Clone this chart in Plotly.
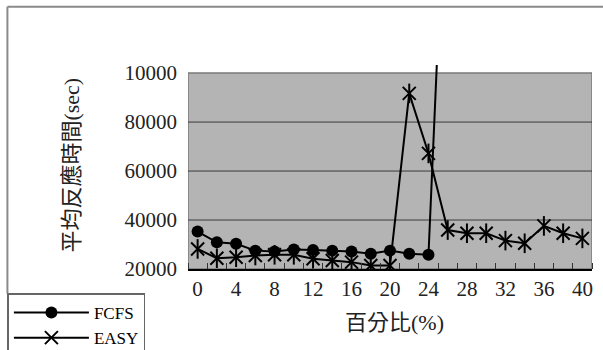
import plotly.graph_objects as go

# Percent settings on the x axis
pct_fcfs = [0, 2, 4, 6, 8, 10, 12, 14, 16, 18, 20, 22, 24, 26]
pct_easy = [0, 2, 4, 6, 8, 10, 12, 14, 16, 18, 20, 22, 24, 26, 28, 30, 32, 34, 36, 38, 40]

# Average response time (sec)
fcfs = [35300, 30900, 30300, 27500, 27100, 28000, 27800, 27500, 27100, 26200, 27500, 26200, 25800, 205000]
easy = [28200, 24400, 24800, 25500, 25800, 25800, 24200, 23500, 22800, 21400, 21400, 91700, 67200,
        35900, 34600, 34600, 31600, 30500, 37600, 34600, 32500]

y_ticks = [20000, 40000, 60000, 80000, 100000]
y_tick_text = ["20000", "40000", "60000", "80000", "10000"]
x_ticks = [0, 4, 8, 12, 16, 20, 24, 28, 32, 36, 40]

SERIF = "Liberation Serif"
TITLE_FONT = "Liberation Serif, Noto Sans CJK TC"

fig = go.Figure()

fig.add_trace(go.Scatter(
    x=pct_fcfs, y=fcfs, name="FCFS", mode="lines+markers",
    line=dict(color="black", width=2),
    marker=dict(symbol="circle", size=12, color="black"),
))
fig.add_trace(go.Scatter(
    x=pct_easy, y=easy, name="EASY", mode="lines+markers",
    line=dict(color="black", width=2),
    marker=dict(symbol="x-thin-open", size=13, color="black",
                line=dict(color="black", width=2)),
))
# vertical stroke completing the six-point star markers
fig.add_trace(go.Scatter(
    x=pct_easy, y=easy, mode="markers", showlegend=False, hoverinfo="skip",
    marker=dict(symbol="line-ns-open", size=14, color="black",
                line=dict(color="black", width=2)),
))

y_top = 100000
y_range = [20000, 103300]

shapes = [
    # grey plot-area panel
    dict(type="rect", xref="x", yref="y", x0=-1, x1=41, y0=20000, y1=y_top,
         fillcolor="#b4b4b4", line=dict(color="#7a7a7a", width=1.5), layer="below"),
    # outer chart frame (top and left edges)
    dict(type="line", xref="paper", yref="paper", x0=-0.447, x1=1.1, y0=1.286, y1=1.286,
         line=dict(color="#8a8a8a", width=2)),
    dict(type="line", xref="paper", yref="paper", x0=-0.447, x1=-0.447, y0=1.286, y1=-0.12,
         line=dict(color="#8a8a8a", width=2)),
]
for v in [40000, 60000, 80000]:
    shapes.append(dict(type="line", xref="x", yref="y", x0=-1, x1=41, y0=v, y1=v,
                       line=dict(color="#3a3a3a", width=1), layer="below"))

fig.update_layout(
    width=603, height=350,
    margin=dict(l=188, r=11, t=65, b=81, autoexpand=False),
    paper_bgcolor="white",
    plot_bgcolor="rgba(0,0,0,0)",
    shapes=shapes,
    showlegend=True,
    legend=dict(
        x=-0.447, y=-0.12, xanchor="left", yanchor="top",
        bordercolor="#666666", borderwidth=1.5, bgcolor="white",
        font=dict(family=SERIF, size=17, color="black"),
        itemwidth=75, tracegroupgap=0,
    ),
    xaxis=dict(
        range=[-1, 41], tickmode="array", tickvals=x_ticks,
        ticks="", showgrid=False, zeroline=False,
        showline=True, linecolor="black", linewidth=1.5,
        tickfont=dict(family=SERIF, size=21, color="#222222"),
        minor=dict(ticks="inside", tick0=-1, dtick=2, ticklen=6,
                   tickcolor="#333333", tickwidth=1, showgrid=False),
    ),
    yaxis=dict(
        range=y_range, tickmode="array", tickvals=y_ticks, ticktext=y_tick_text,
        ticks="", showgrid=False, zeroline=False, showline=False,
        ticklabelstandoff=10,
        tickfont=dict(family=SERIF, size=21, color="#222222"),
    ),
    annotations=[
        dict(text="平均反應時間(sec)", xref="paper", yref="paper",
             x=-0.288, y=0.51, xanchor="center", yanchor="middle",
             textangle=-90, showarrow=False,
             font=dict(family=TITLE_FONT, size=22, color="#222222")),
        dict(text="百分比(%)", xref="paper", yref="paper",
             x=0.51, y=-0.26, xanchor="center", yanchor="middle", showarrow=False,
             font=dict(family=TITLE_FONT, size=22, color="#222222")),
    ],
)

fig.write_html("out.html")
